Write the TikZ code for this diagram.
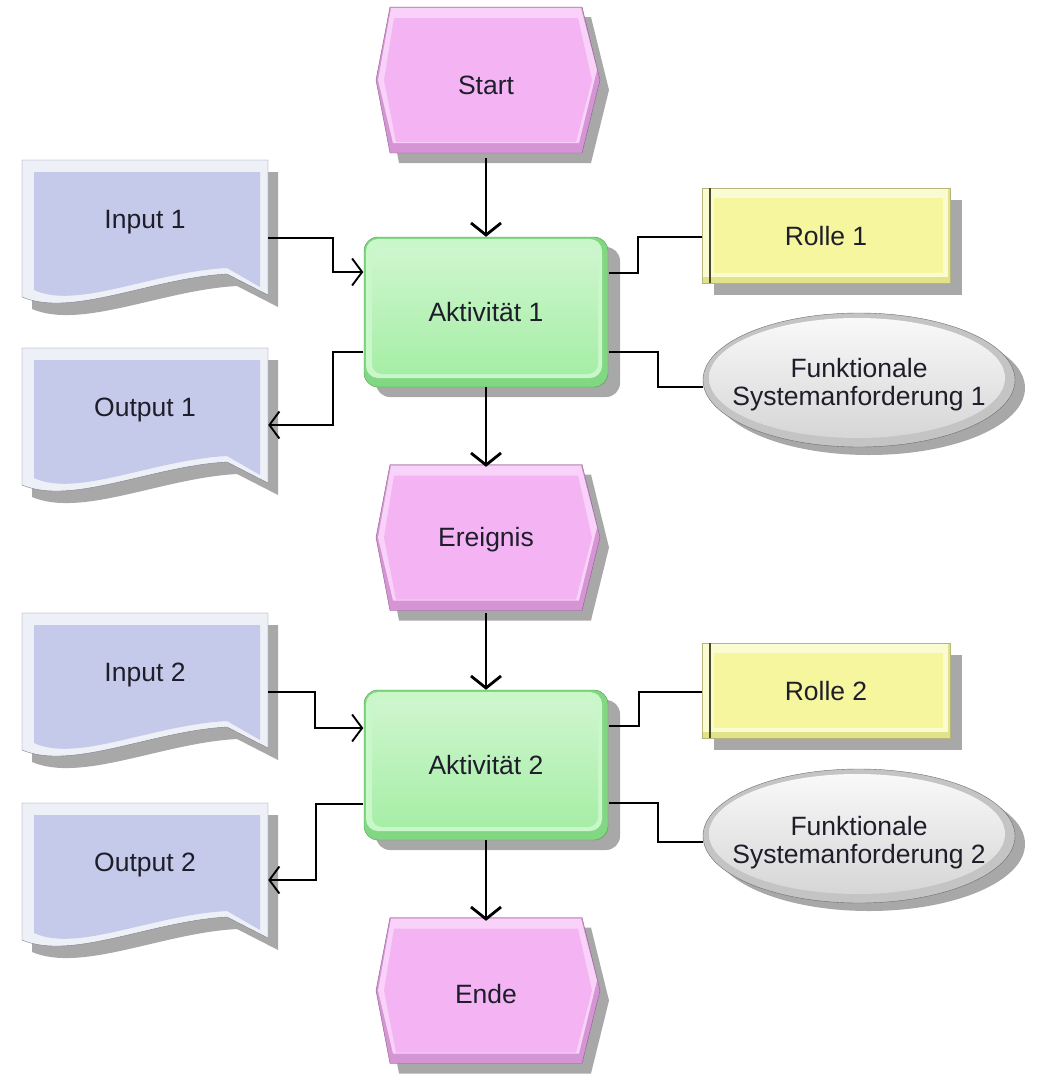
\documentclass[tikz,border=0pt]{standalone}
\usepackage{fontspec}
\setmainfont{Liberation Sans}
\usetikzlibrary{arrows.meta,calc}
\definecolor{shadowc}{HTML}{A8A8A8}
\definecolor{evborder}{HTML}{8E5E8E}
\definecolor{evdark}{HTML}{D595D5}
\definecolor{evlight}{HTML}{F9D2F9}
\definecolor{evfill}{HTML}{F4B4F4}
\definecolor{actborder}{HTML}{4E9A4E}
\definecolor{actdark}{HTML}{82D882}
\definecolor{actlight}{HTML}{C9F7C9}
\definecolor{actfill}{HTML}{A6EEA6}
\definecolor{docborder}{HTML}{7E7E8C}
\definecolor{doclight}{HTML}{EEF0F8}
\definecolor{docfill}{HTML}{C6CAEA}
\definecolor{roleborder}{HTML}{B5B57E}
\definecolor{roledark}{HTML}{E2E288}
\definecolor{rolelight}{HTML}{FBFBD2}
\definecolor{rolefill}{HTML}{F6F69E}
\definecolor{roleline}{HTML}{4A4A30}
\definecolor{reqborder}{HTML}{6E6E6E}
\definecolor{reqdark}{HTML}{C4C4C4}
\definecolor{reqfill}{HTML}{D6D6D6}
\definecolor{txt}{HTML}{1E1E2A}
\newcommand{\evhex}[2]{%
\begin{scope}[shift={(#1,#2)}]
\fill[shadowc] (-96+9,-73+10) -- (96+9,-73+10) -- (114+9,10) -- (96+9,73+10) -- (-96+9,73+10) -- (-110+9,10) -- cycle;
\filldraw[draw=evborder, fill=evdark] (-96,-73) -- (96,-73) -- (114,0) -- (96,73) -- (-96,73) -- (-110,0) -- cycle;
\fill[evlight] (-95,-72) -- (95,-72) -- (111,-10) -- (93,63) -- (-93,63) -- (-108,0) -- cycle;
\fill[evfill] (-92,-62) -- (92,-62) -- (106,0) -- (90,62) -- (-90,62) -- (-102,0) -- cycle;
\end{scope}}
\newcommand{\actshape}[2]{%
\begin{scope}[shift={(#1,#2)}]
\fill[shadowc, rounded corners=14pt] (-122+12,-75+10) rectangle (122+12,75+10);
\filldraw[draw=actborder, fill=actdark, rounded corners=14pt] (-122,-75) rectangle (122,75);
\fill[actlight, rounded corners=12pt] (-120,-73) rectangle (116,66);
\shade[top color=actfill!55!white, bottom color=actfill, rounded corners=10pt] (-114,-64) rectangle (112,62);
\end{scope}}
\newcommand{\docshape}[2]{%
\begin{scope}[shift={(#1,#2)}]
\fill[shadowc] (10,12) -- (256,12) -- (256,147) -- (215,126) .. controls (140,130) and (60,170) .. (10,149) -- cycle;
\filldraw[draw=docborder, fill=doclight] (0,0) -- (246,0) -- (246,135) -- (205,114) .. controls (130,118) and (50,158) .. (0,137) -- cycle;
\fill[docfill] (12,12) -- (238,12) -- (238,127) -- (205,108) .. controls (130,112) and (55,150) .. (12,130) -- cycle;
\end{scope}}
\newcommand{\roleshape}[2]{%
\begin{scope}[shift={(#1,#2)}]
\fill[shadowc] (-124+12,-47.5+12) rectangle (124+12,47.5+12);
\filldraw[draw=roleborder, fill=roledark] (-124,-47.5) rectangle (124,47.5);
\fill[rolelight] (-123,-46.5) rectangle (122,41);
\fill[rolefill] (-112,-38) rectangle (117,37);
\draw[line width=1.6pt, roleline] (-116,-47.5) -- (-116,47.5);
\end{scope}}
\newcommand{\reqshape}[2]{%
\begin{scope}[shift={(#1,#2)}]
\fill[shadowc] (10,8) ellipse [x radius=156, y radius=67];
\filldraw[draw=reqborder, fill=reqdark] (0,0) ellipse [x radius=156, y radius=67];
\shade[top color=white!85!reqfill, bottom color=reqfill] (-2,-2) ellipse [x radius=148, y radius=60];
\end{scope}}
\begin{document}
\begin{tikzpicture}[x=1pt,y=-1pt,
  shapebox/.style 2 args={minimum width=#1, minimum height=#2, inner sep=0pt, draw=none,
    text=txt, font=\fontsize{26.5}{28}\selectfont, align=center},
  flow/.style={line width=2.8pt, -{Straight Barb[length=12pt,width=30pt]}},
  side/.style={line width=1.9pt},
  sidearrow/.style={line width=1.9pt, -{Straight Barb[length=10pt,width=27pt]}}]
\useasboundingbox (0,0) rectangle (1039,1079);
% shapes
\evhex{486}{80}
\evhex{486}{537.5}
\evhex{486}{990.5}
\actshape{486}{312}
\actshape{486}{765}
\docshape{22}{160}
\docshape{22}{348}
\docshape{22}{613}
\docshape{22}{803}
\roleshape{826}{235.5}
\roleshape{826}{690.5}
\reqshape{859}{380}
\reqshape{859}{836}
% nodes
\node[shapebox={226}{146}] (start) at (486,85) {Start};
\node[shapebox={226}{146}] (er) at (486,540) {Ereignis};
\node[shapebox={226}{146}] (ende) at (486,994) {Ende};
\node[shapebox={245}{150}] (a1) at (486,312) {Aktivität 1};
\node[shapebox={245}{150}] (a2) at (486,765) {Aktivität 2};
\node[shapebox={246}{124}] (in1) at (145,222) {Input 1};
\node[shapebox={246}{124}] (out1) at (145,410) {Output 1};
\node[shapebox={246}{124}] (in2) at (145,675) {Input 2};
\node[shapebox={246}{124}] (out2) at (145,865) {Output 2};
\node[shapebox={248}{95}] (r1) at (826,236.5) {Rolle 1};
\node[shapebox={248}{95}] (r2) at (826,691.5) {Rolle 2};
\node[shapebox={312}{134}] (f1) at (859,385) {Funktionale\\Systemanforderung 1};
\node[shapebox={312}{134}] (f2) at (859,843) {Funktionale\\Systemanforderung 2};
% connectors
\draw[flow] (start.south) -- (a1.north);
\draw[flow] (a1.south) -- (er.north);
\draw[flow] (er.south) -- (a2.north);
\draw[flow] (a2.south) -- (ende.north);
\draw[sidearrow] ([yshift=-16pt]in1.east) -- ++(65,0) |- ([yshift=40pt]a1.west);
\draw[sidearrow] ([yshift=-40pt]a1.west) -- ++(-30,0) |- ([yshift=-15pt]out1.east);
\draw[side] ([yshift=39pt]a1.east) -- ++(29,0) |- ([yshift=-0.5pt]r1.west);
\draw[side] ([yshift=-40pt]a1.east) -- ++(49,0) |- ([yshift=-2pt]f1.west);
\draw[sidearrow] ([yshift=-17pt]in2.east) -- ++(47,0) |- ([yshift=37pt]a2.west);
\draw[sidearrow] ([yshift=-39pt]a2.west) -- ++(-47,0) |- ([yshift=-15pt]out2.east);
\draw[side] ([yshift=39pt]a2.east) -- ++(30,0) |- ([yshift=-0.5pt]r2.west);
\draw[side] ([yshift=-38pt]a2.east) -- ++(49,0) |- ([yshift=1pt]f2.west);
\end{tikzpicture}
\end{document}
